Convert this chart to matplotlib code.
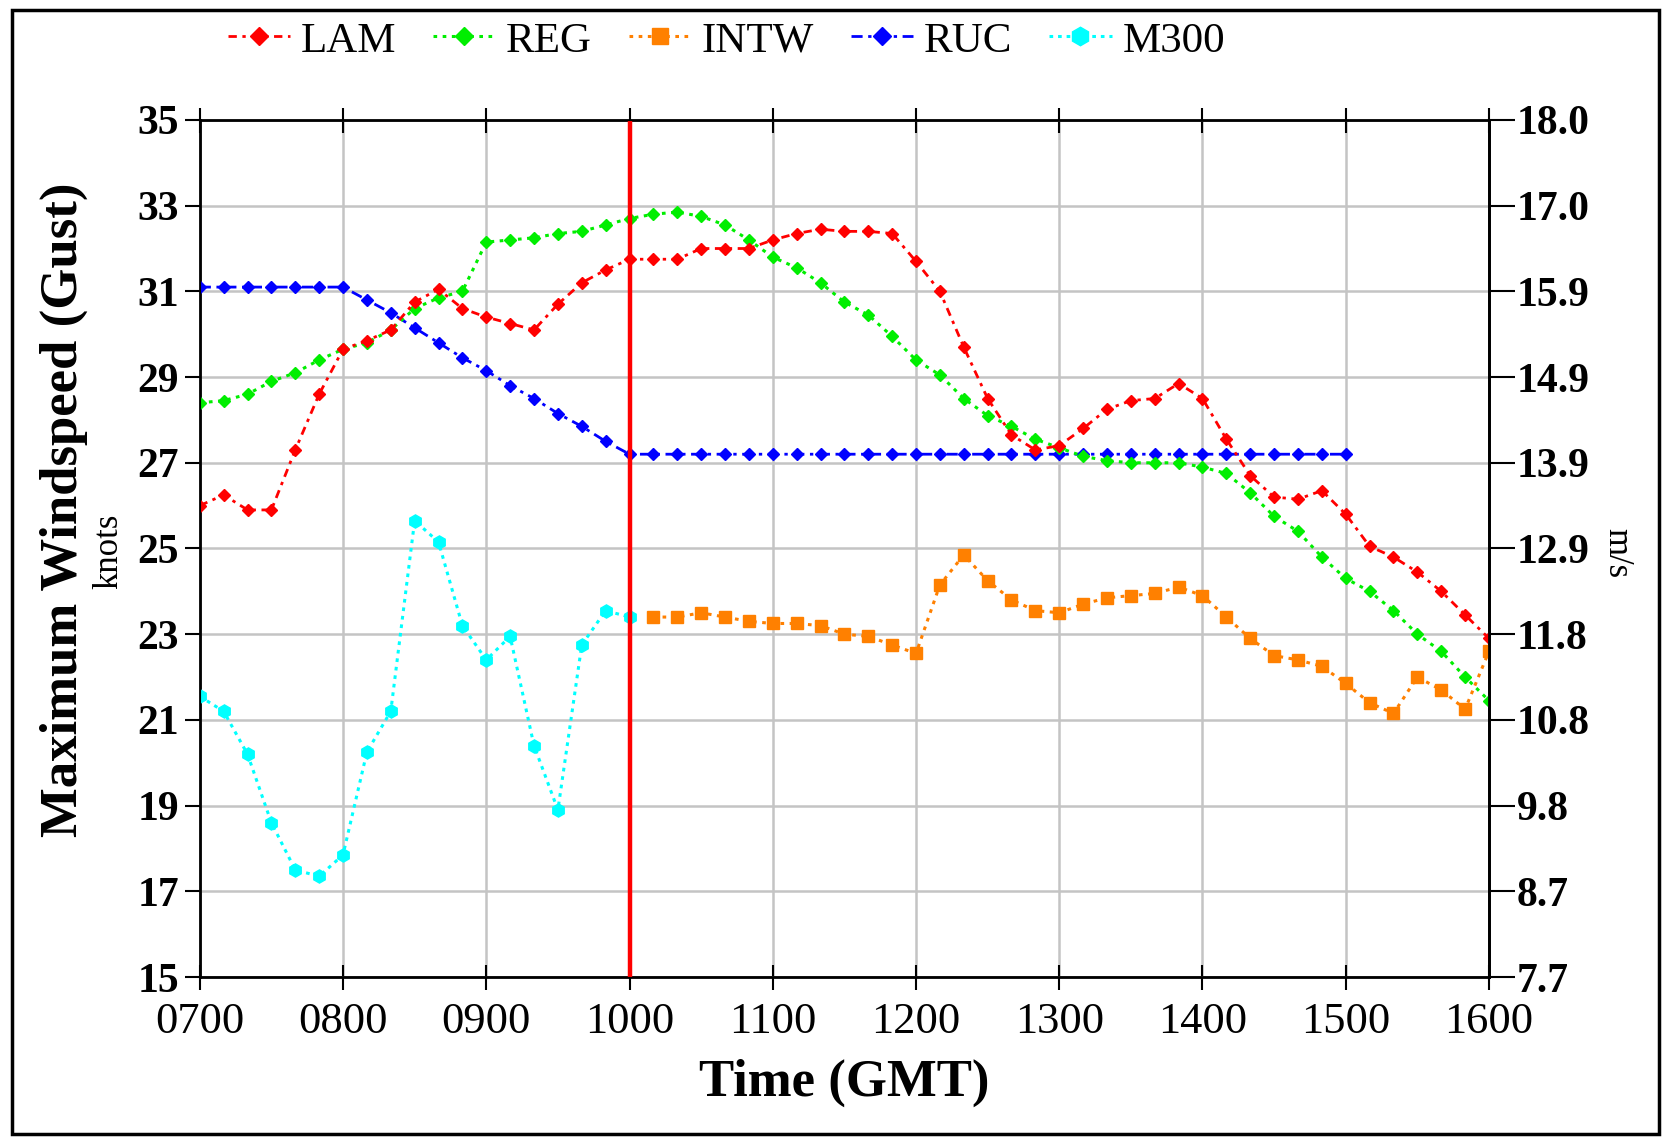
import matplotlib
matplotlib.use("Agg")
import matplotlib.pyplot as plt
from matplotlib.patches import Rectangle
import numpy as np

# time grid in hours, 10 minute steps from 0700 to 1600
times = np.arange(7 * 6, 16 * 6 + 1) / 6.0

lam = [26.0, 26.25, 25.9, 25.9, 27.3, 28.6, 29.65, 29.85, 30.1, 30.75,
       31.05, 30.6, 30.4, 30.25, 30.1, 30.7, 31.2, 31.5, 31.75, 31.75,
       31.75, 32.0, 32.0, 32.0, 32.2, 32.35, 32.45, 32.4, 32.4, 32.35,
       31.7, 31.0, 29.7, 28.5, 27.65, 27.3, 27.4, 27.8, 28.25, 28.45,
       28.5, 28.85, 28.5, 27.55, 26.7, 26.2, 26.15, 26.35, 25.8, 25.05,
       24.8, 24.45, 24.0, 23.45, 22.9]
reg = [28.4, 28.45, 28.6, 28.9, 29.1, 29.4, 29.65, 29.8, 30.1, 30.6,
       30.85, 31.0, 32.15, 32.2, 32.25, 32.35, 32.4, 32.55, 32.7, 32.8,
       32.85, 32.75, 32.55, 32.2, 31.8, 31.55, 31.2, 30.75, 30.45, 29.95,
       29.4, 29.05, 28.5, 28.1, 27.85, 27.55, 27.35, 27.15, 27.05, 27.0,
       27.0, 27.0, 26.9, 26.75, 26.3, 25.75, 25.4, 24.8, 24.3, 24.0,
       23.55, 23.0, 22.6, 22.0, 21.45]
ruc = [31.1, 31.1, 31.1, 31.1, 31.1, 31.1, 31.1, 30.8, 30.5, 30.15,
       29.8, 29.45, 29.15, 28.8, 28.5, 28.15, 27.85, 27.5, 27.2, 27.2,
       27.2, 27.2, 27.2, 27.2, 27.2, 27.2, 27.2, 27.2, 27.2, 27.2,
       27.2, 27.2, 27.2, 27.2, 27.2, 27.2, 27.2, 27.2, 27.2, 27.2,
       27.2, 27.2, 27.2, 27.2, 27.2, 27.2, 27.2, 27.2, 27.2]
intw = [23.4, 23.4, 23.5, 23.4, 23.3, 23.25, 23.25, 23.2, 23.0, 22.95,
        22.75, 22.55, 24.15, 24.85, 24.25, 23.8, 23.55, 23.5, 23.7, 23.85,
        23.9, 23.95, 24.1, 23.9, 23.4, 22.9, 22.5, 22.4, 22.25, 21.85,
        21.4, 21.15, 22.0, 21.7, 21.25, 22.6]
m300 = [21.55, 21.2, 20.2, 18.6, 17.5, 17.35, 17.85, 20.25, 21.2, 25.65,
        25.15, 23.2, 22.4, 22.95, 20.4, 18.9, 22.75, 23.55, 23.4]

knot_ticks = [15, 17, 19, 21, 23, 25, 27, 29, 31, 33, 35]
ms_labels = ["7.7", "8.7", "9.8", "10.8", "11.8", "12.9", "13.9", "14.9",
             "15.9", "17.0", "18.0"]
hour_ticks = [7, 8, 9, 10, 11, 12, 13, 14, 15, 16]
hour_labels = ["0700", "0800", "0900", "1000", "1100", "1200", "1300",
               "1400", "1500", "1600"]
event_time = 10

plt.rcParams['font.family'] = ['Liberation Serif', 'DejaVu Serif']

fig = plt.figure(figsize=(16.62, 11.37), dpi=100)
ax = fig.add_axes([0.1202, 0.1407, 0.7757, 0.7538])

ax.plot(times[:len(ruc)], ruc, color='#0000ff', ls=(0, (4, 2, 1.2, 2)), lw=2,
        marker='D', ms=6.5, label='RUC', zorder=3)
ax.plot(times, reg, color='#00ee00', ls=(0, (1.2, 1.8)), lw=2.2,
        marker='D', ms=6.5, label='REG', zorder=3)
ax.plot(times, lam, color='#ff0000', ls=(0, (3, 2, 1.2, 2)), lw=2,
        marker='D', ms=6.5, label='LAM', zorder=4)
ax.plot(times[len(times) - len(intw):], intw, color='#ff8000', ls=(0, (1.2, 1.8)),
        lw=2.2, marker='s', ms=8.5, label='INTW', zorder=3)
ax.plot(times[:len(m300)], m300, color='#00ffff', ls=(0, (1.2, 1.6)), lw=2.2,
        marker='h', ms=9.5, label='M300', zorder=3)

ax.axvline(event_time, color='#ff0000', lw=3.2, zorder=5)

ax.set_xlim(7, 16)
ax.set_ylim(15, 35)
ax.set_xticks(hour_ticks)
ax.set_xticklabels(hour_labels, fontsize=32)
ax.set_yticks(knot_ticks)
ax.set_yticklabels([str(k) for k in knot_ticks], fontsize=30, fontweight='bold')
ax.grid(True, color='#c4c4c4', lw=1.8)
ax.set_axisbelow(True)
ax.tick_params(axis='x', direction='inout', length=18, width=1.5, top=True, pad=9)
ax.tick_params(axis='y', direction='out', length=11, width=1.5, pad=4)
for s in ax.spines.values():
    s.set_linewidth(2)

ax2 = ax.twinx()
ax2.set_ylim(15, 35)
ax2.set_yticks(knot_ticks)
ax2.set_yticklabels(ms_labels, fontsize=30, fontweight='bold')
ax2.tick_params(axis='y', direction='out', length=19, width=1.5, pad=1)
ax2.spines['right'].set_linewidth(2)

ax.set_xlabel('Time (GMT)', fontsize=38, fontweight='bold', labelpad=12)
fig.text(0.0385, 0.5517, 'Maximum Windspeed (Gust)', rotation=90, fontsize=38,
         fontweight='bold', ha='center', va='center')
fig.text(0.0656, 0.5155, 'knots', rotation=90, fontsize=25,
         ha='center', va='center')
fig.text(0.973, 0.5135, 'm/s', rotation=270, fontsize=25,
         ha='center', va='center')

handles, labels = ax.get_legend_handles_labels()
order = ['LAM', 'REG', 'INTW', 'RUC', 'M300']
hmap = dict(zip(labels, handles))
fig.legend([hmap[k] for k in order], order, loc='center', ncol=5,
           bbox_to_anchor=(0.437, 0.964), frameon=False,
           prop={'family': ['Liberation Serif'], 'size': 31},
           handlelength=1.45, handletextpad=0.25, columnspacing=0.85,
           borderpad=0.1, markerscale=1.4)

fig.patches.append(Rectangle((0.007, 0.003), 0.991, 0.988, transform=fig.transFigure,
                             fill=False, edgecolor='black', lw=2.5))

fig.savefig('out.png', dpi=100)
